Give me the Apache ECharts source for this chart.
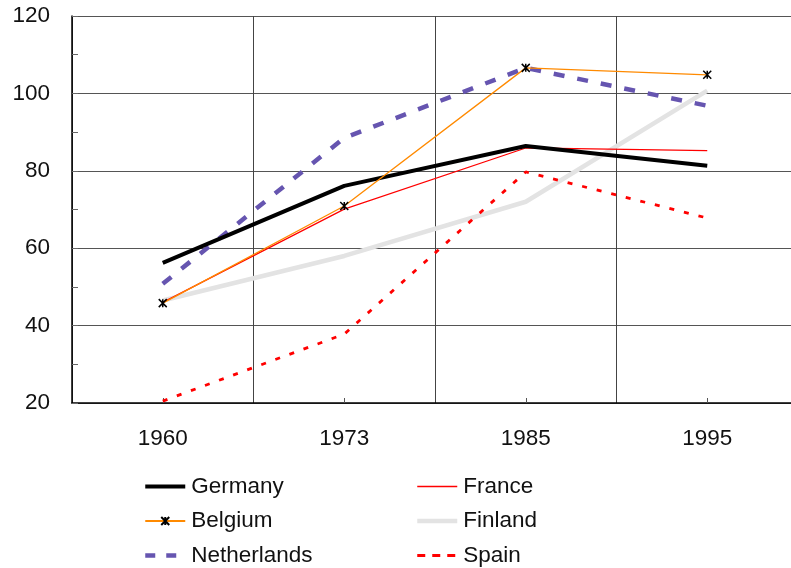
<!DOCTYPE html>
<html>
<head>
<meta charset="utf-8">
<script src="https://cdn.jsdelivr.net/npm/echarts@6/dist/echarts.min.js"></script>
<style>html,body{margin:0;padding:0;background:#fff;overflow:hidden;width:791px;height:568px}#c{width:800px;height:568px}</style>
</head>
<body>
<div id="c"></div>
<script>
var years = ['1960', '1973', '1985', '1995'];
var germany = [56.2, 76.1, 86.4, 81.3];
var france = [46.0, 70.1, 85.9, 85.2];
var belgium = [45.8, 70.9, 106.6, 104.8];
var finland = [46.5, 58.0, 72.0, 100.7];
var netherlands = [50.8, 88.5, 106.6, 96.8];
var spain = [20.5, 37.8, 79.7, 67.8];
var yTicks = [20, 40, 60, 80, 100, 120];

var FONT = '"Liberation Sans", Arial, sans-serif';
var chart = echarts.init(document.getElementById('c'), null, {renderer: 'canvas'});
var star = 'path://M0,0L10,10M10,0L0,10M5,0L5,10';

function ln(name, data, color, width, type, extra) {
  var s = {
    name: name, type: 'line', data: data, smooth: false,
    symbol: 'none', animation: false,
    lineStyle: {color: color, width: width, type: type},
    itemStyle: {color: color},
    emphasis: {disabled: true}
  };
  if (extra) Object.assign(s, extra);
  return s;
}
function li(name, width, type) {
  return {name: name, itemStyle: {opacity: 0}, lineStyle: {width: width, type: type}};
}

var legendText = {fontFamily: FONT, fontSize: 22.5, color: '#111', padding: [0, 0, 0, 1]};
var option = {
  backgroundColor: '#fff',
  animation: false,
  grid: {left: 72, top: 16, height: 387, width: 726, containLabel: false},
  xAxis: {
    type: 'category', data: years, boundaryGap: true,
    axisLine: {show: true, lineStyle: {color: '#000', width: 1.5}},
    axisTick: {show: true, inside: true, alignWithLabel: true, length: 5, lineStyle: {color: '#555'}},
    axisLabel: {color: '#111', fontFamily: FONT, fontSize: 22.5, margin: 24},
    splitLine: {show: true, lineStyle: {color: '#444', width: 1}}
  },
  yAxis: {
    type: 'value', min: yTicks[0], max: yTicks[yTicks.length - 1], interval: 20,
    axisLine: {show: true, lineStyle: {color: '#000', width: 1.5}},
    axisTick: {show: true, inside: true, length: 6, lineStyle: {color: '#666'}},
    minorTick: {show: true, splitNumber: 2, length: 6, lineStyle: {color: '#666'}},
    axisLabel: {color: '#111', fontFamily: FONT, fontSize: 22.5, margin: 22},
    splitLine: {show: true, lineStyle: {color: '#555', width: 1.2}}
  },
  legend: [
    {
      data: [li('Germany', 4, 'solid'), {name: 'Belgium', lineStyle: {width: 2}}, li('Netherlands', 4.5, [10, 11])],
      orient: 'vertical', left: 143, top: 475, itemWidth: 40, itemHeight: 10, itemGap: 11.5,
      textStyle: legendText, padding: 0
    },
    {
      data: [li('France', 1.5, 'solid'), li('Finland', 4.5, 'solid'), li('Spain', 3, [8, 7])],
      orient: 'vertical', left: 415, top: 475, itemWidth: 40, itemHeight: 10, itemGap: 11.5,
      textStyle: legendText, padding: 0
    }
  ],
  series: [
    ln('Finland', finland, '#e3e3e3', 4.5, 'solid'),
    ln('Spain', spain, '#ff0000', 2.8, [5, 10]),
    ln('Netherlands', netherlands, '#6655b0', 4.5, [11, 13]),
    ln('France', france, '#ff0000', 1.2, 'solid'),
    ln('Germany', germany, '#000000', 4, 'solid'),
    ln('Belgium', belgium, '#ff8a00', 1.3, 'solid', {
      symbol: star, symbolSize: 8, showSymbol: true,
      itemStyle: {color: '#000', borderColor: '#000', borderWidth: 1.5}
    })
  ]
};
chart.setOption(option);
</script>
</body>
</html>
